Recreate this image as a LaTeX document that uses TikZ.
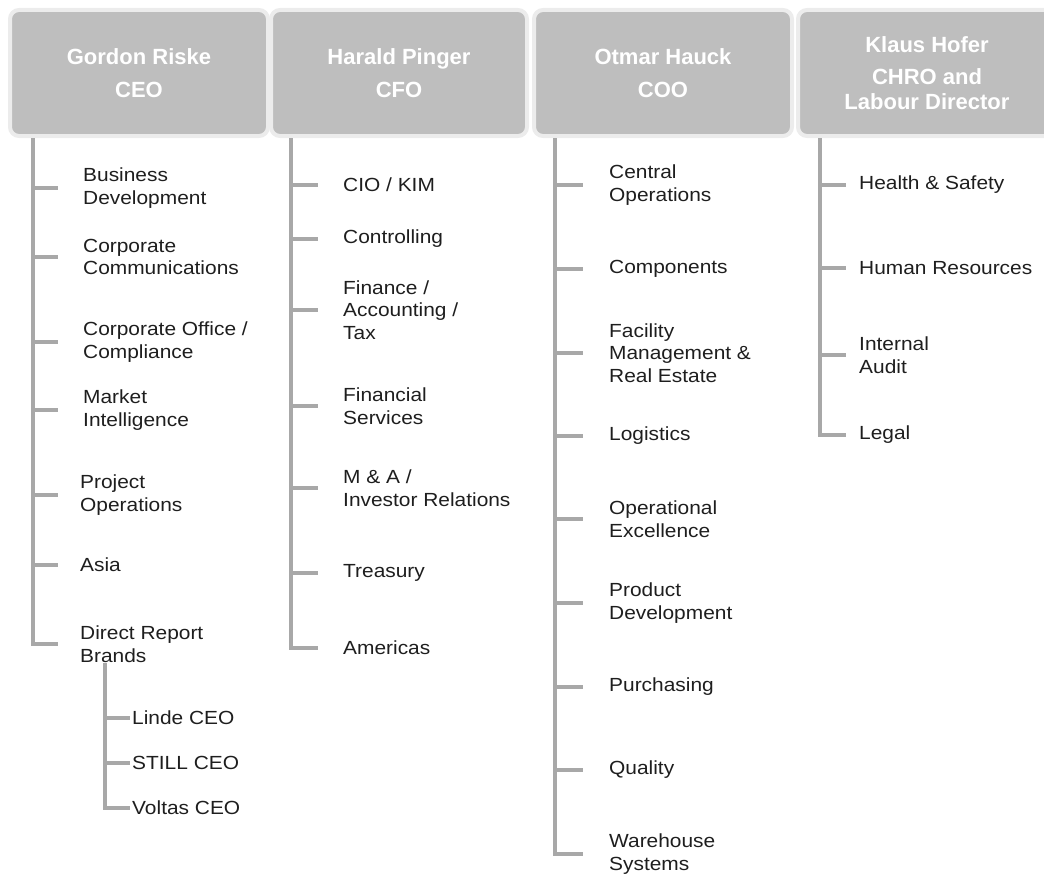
\documentclass[tikz,border=0pt]{standalone}
\usepackage{fontspec}
\setmainfont{Liberation Sans}
\newfontfamily\itemfont[FakeStretch=1.1]{Liberation Sans}
\usetikzlibrary{positioning}
\definecolor{HeadFill}{HTML}{BEBEBE}
\definecolor{HeadRim}{HTML}{ECECEC}
\definecolor{LinkGray}{HTML}{A8A8A8}
\definecolor{ItemInk}{HTML}{1E1E1E}
\tikzset{
  head/.style={draw=HeadRim, line width=4pt, fill=HeadFill, rounded corners=9pt,
    minimum width=258pt, minimum height=126pt, align=center, text=white,
    font=\bfseries\fontsize{22}{33}\selectfont},
  unit/.style={anchor=west, align=left, inner xsep=0pt, inner ysep=1pt, text=ItemInk,
    font=\itemfont\fontsize{19}{22.5}\selectfont},
  link/.style={draw=LinkGray, line width=4pt},
}
\begin{document}
\begin{tikzpicture}[x=1pt, y=-1pt]
  \clip (0,0) rectangle (1044,875);
  % Board members
  \node[head] (ceo) at (139,73) {Gordon Riske\\CEO};
  \node[head, minimum width=256pt] (cfo) at (399,73) {Harald Pinger\\CFO};
  \node[head] (coo) at (663,73) {Otmar Hauck\\COO};
  \node[head] (chro) at (927,73) {Klaus Hofer\\[-1pt]CHRO and\\[-8pt]Labour Director};
  \coordinate (ceo-t) at ([xshift=25pt]ceo.south west);
  \coordinate (cfo-t) at ([xshift=22pt]cfo.south west);
  \coordinate (coo-t) at ([xshift=23pt]coo.south west);
  \coordinate (chro-t) at ([xshift=24pt]chro.south west);
  % CEO units
  \node[unit] (bd) at (83,188) {Business\\Development};
  \node[unit] (cc) at (83,257) {Corporate\\Communications};
  \node[unit] (co) at (83,342) {Corporate Office /\\Compliance};
  \node[unit] (mi) at (83,410) {Market\\Intelligence};
  \node[unit] (po) at (80,495) {Project\\Operations};
  \node[unit] (asia) at (80,565) {Asia};
  \node[unit] (drb) at (80,644) {Direct Report\\Brands};
  \foreach \n in {bd,cc,co,mi} \draw[link] (ceo-t) |- ([xshift=-25pt]\n.west);
  \foreach \n in {po,asia,drb} \draw[link] (ceo-t) |- ([xshift=-22pt]\n.west);
  % Brands
  \coordinate (drb-t) at ([xshift=25pt]drb.south west);
  \node[unit] (linde) at (132,718) {Linde CEO};
  \node[unit] (still) at (132,763) {STILL CEO};
  \node[unit] (voltas) at (132,808) {Voltas CEO};
  \foreach \n in {linde,still,voltas} \draw[link] (drb-t) |- ([xshift=-2pt]\n.west);
  % CFO units
  \node[unit] (cio) at (343,185) {CIO / KIM};
  \node[unit] (ctrl) at (343,239) {Controlling};
  \node[unit] (fin) at (343,310) {Finance /\\Accounting /\\Tax};
  \node[unit] (fs) at (343,406) {Financial\\Services};
  \node[unit] (ma) at (343,488) {M \& A /\\Investor Relations};
  \node[unit] (tre) at (343,573) {Treasury};
  \node[unit] (ame) at (343,648) {Americas};
  \foreach \n in {cio,ctrl,fin,fs,ma,tre,ame} \draw[link] (cfo-t) |- ([xshift=-25pt]\n.west);
  % COO units
  \node[unit] (cop) at (609,185) {Central\\Operations};
  \node[unit] (comp) at (609,269) {Components};
  \node[unit] (fac) at (609,353) {Facility\\Management \&\\Real Estate};
  \node[unit] (log) at (609,436) {Logistics};
  \node[unit] (opx) at (609,519) {Operational\\Excellence};
  \node[unit] (pd) at (609,603) {Product\\Development};
  \node[unit] (pur) at (609,687) {Purchasing};
  \node[unit] (qual) at (609,770) {Quality};
  \node[unit] (wh) at (609,854) {Warehouse\\Systems};
  \foreach \n in {cop,comp,fac,log,opx,pd,pur,qual,wh} \draw[link] (coo-t) |- ([xshift=-26pt]\n.west);
  % CHRO units
  \node[unit] (hs) at (859,185) {Health \& Safety};
  \node[unit] (hr) at (859,268) {Human Resources};
  \node[unit] (ia) at (859,355) {Internal\\Audit};
  \node[unit] (leg) at (859,435) {Legal};
  \foreach \n in {hs,hr,ia,leg} \draw[link] (chro-t) |- ([xshift=-13pt]\n.west);
\end{tikzpicture}
\end{document}
